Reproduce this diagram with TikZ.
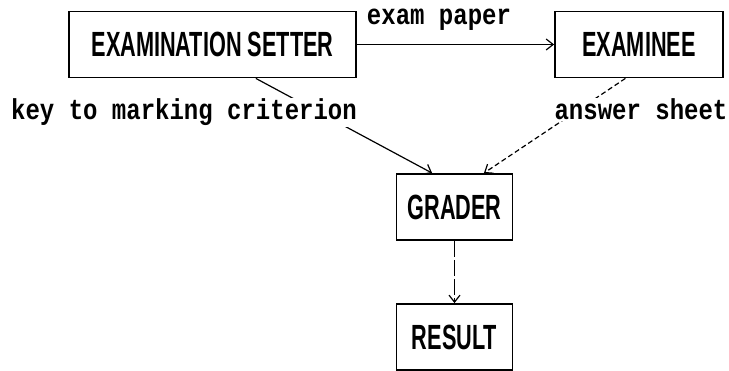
\documentclass[tikz,border=0pt]{standalone}
\usepackage{fontspec}
\setmainfont{Liberation Sans}
\newfontfamily\labelfont{Liberation Mono}
\usetikzlibrary{arrows.meta,calc}

% condensed capitals inside the boxes
\newcommand\boxtext[1]{\scalebox{0.62}[1]{\fontsize{35}{35}\selectfont\bfseries #1}}
% tall typewriter text for the flow labels
\newcommand\flowtext[1]{\scalebox{1}[1.2]{\labelfont\fontsize{24}{24}\selectfont\bfseries #1}}

\tikzset{
  box/.style={draw, line width=1.8pt, minimum height=66pt, inner sep=0pt},
  flowlabel/.style={fill=white, inner sep=1pt, anchor=base},
  tip/.style={-{Straight Barb[length=7pt,width=11pt,line width=1.2pt]}},
  flow/.style={tip, line width=1.2pt},
}

\begin{document}
\begin{tikzpicture}[x=1pt,y=-1pt]
\useasboundingbox (0,0) rectangle (729,371);

% the four stations
\node[box, minimum width=287pt] (setter)   at (212.5,44.5) {\boxtext{EXAMINATION SETTER}};
\node[box, minimum width=168pt] (examinee) at (639,44.5)   {\boxtext{EXAMINEE}};
\node[box, minimum width=116pt] (grader)   at (454.5,207)  {\boxtext{GRADER}};
\node[box, minimum width=116pt] (result)   at (454.5,337)  {\boxtext{RESULT}};

% attachment points along the box edges
\coordinate (s1) at ($(setter.south west)!0.65!(setter.south east)$);
\coordinate (e1) at ($(examinee.south west)!0.42!(examinee.south east)$);
\coordinate (g1) at ($(grader.north west)!0.31!(grader.north east)$);
\coordinate (g2) at ($(grader.north west)!0.75!(grader.north east)$);

% connectors
\draw[tip, line width=1.8pt] (setter) -- (examinee);
\draw[flow] (s1) -- (g1);
\draw[flow, dash pattern=on 5pt off 3pt] (e1) -- (g2);
\draw[flow, line width=1.5pt, dash pattern=on 16pt off 3pt] (grader) -- (result);

% labels, set over the lines they annotate
\node[flowlabel] (lpaper)  at (439,25)  {\flowtext{exam paper}};
\node[flowlabel] (lkey)    at (184,120) {\flowtext{key to marking criterion}};
\node[flowlabel] (lanswer) at (641,120) {\flowtext{answer sheet}};
\end{tikzpicture}
\end{document}
